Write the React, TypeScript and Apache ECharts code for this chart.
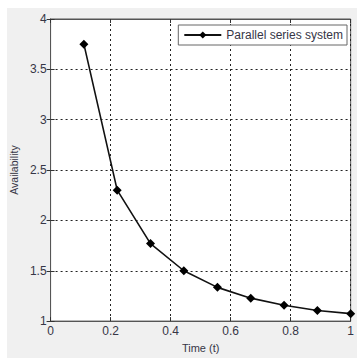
import React, { useEffect, useRef } from "react";
import * as echarts from "echarts";

const timeValues = [0.111, 0.222, 0.333, 0.444, 0.556, 0.667, 0.778, 0.889, 1.0];
const availability = [3.75, 2.3, 1.77, 1.5, 1.335, 1.228, 1.157, 1.106, 1.074];
const seriesName = "Parallel series system";
const xAxisName = "Time (t)";
const yAxisName = "Availability";

export default function App() {
  const ref = useRef<HTMLDivElement>(null);
  useEffect(() => {
    const chart = echarts.init(ref.current!, undefined, { renderer: "svg" });
    const font = "Liberation Sans, Arial, sans-serif";
    const labelColor = "#363646";
    const axisLineStyle = { color: "#555", width: 1 };
    const split = { show: true, lineStyle: { color: "#222", type: [2, 3] as any, width: 1 } };
    chart.setOption({
      animation: false,
      backgroundColor: "#ffffff",
      graphic: [
        { type: "rect", shape: { x: 7, y: 8, width: 350, height: 350 }, style: { fill: "#f0f0f0" }, z: -10, silent: true },
      ],
      grid: { left: 48, right: 3, top: 19, bottom: 27, show: true, backgroundColor: "#fff", borderColor: "#555", borderWidth: 1 },
      legend: {
        data: [seriesName],
        right: 10,
        top: 25,
        backgroundColor: "#fff",
        borderColor: "#666",
        borderWidth: 1,
        borderRadius: 0,
        padding: [4, 4, 4, 5],
        itemWidth: 37,
        itemHeight: 9,
        itemGap: 3,
        textStyle: { fontFamily: font, fontSize: 12, color: labelColor },
      },
      xAxis: [
        {
          type: "value", min: 0, max: 1, interval: 0.2, position: "bottom",
          name: xAxisName, nameLocation: "middle", nameGap: 16,
          nameTextStyle: { fontFamily: font, fontSize: 11, color: labelColor },
          axisLine: { show: true, lineStyle: axisLineStyle },
          axisTick: { show: true, inside: true, length: 4, lineStyle: { color: "#333" } },
          axisLabel: { fontFamily: font, fontSize: 12, color: labelColor, margin: 4, formatter: (v: number) => String(Math.round(v * 10) / 10) },
          splitLine: split,
        },
        {
          type: "value", min: 0, max: 1, interval: 0.2, position: "top",
          axisLine: { show: true, lineStyle: axisLineStyle },
          axisTick: { show: true, inside: true, length: 4, lineStyle: { color: "#333" } },
          axisLabel: { show: false },
          splitLine: { show: false },
        },
      ],
      yAxis: [
        {
          type: "value", min: 1, max: 4, interval: 0.5, position: "left",
          name: yAxisName, nameLocation: "middle", nameGap: 31, nameRotate: 90,
          nameTextStyle: { fontFamily: font, fontSize: 10.5, color: labelColor },
          axisLine: { show: true, lineStyle: axisLineStyle },
          axisTick: { show: true, inside: true, length: 4, lineStyle: { color: "#333" } },
          axisLabel: { fontFamily: font, fontSize: 12, color: labelColor, margin: 4 },
          splitLine: split,
        },
        {
          type: "value", min: 1, max: 4, interval: 0.5, position: "right",
          axisLine: { show: true, lineStyle: axisLineStyle },
          axisTick: { show: true, inside: true, length: 4, lineStyle: { color: "#333" } },
          axisLabel: { show: false },
          splitLine: { show: false },
        },
      ],
      series: [
        {
          name: seriesName,
          type: "line",
          data: timeValues.map((t, i) => [t, availability[i]]),
          symbol: "diamond",
          symbolSize: 9,
          showAllSymbol: true,
          lineStyle: { color: "#111", width: 1.6 },
          itemStyle: { color: "#000" },
          clip: false,
        },
      ],
    });
    return () => chart.dispose();
  }, []);
  return <div ref={ref} style={{ position: "fixed", left: 0, top: 0, width: 357, height: 358 }} />;
}
